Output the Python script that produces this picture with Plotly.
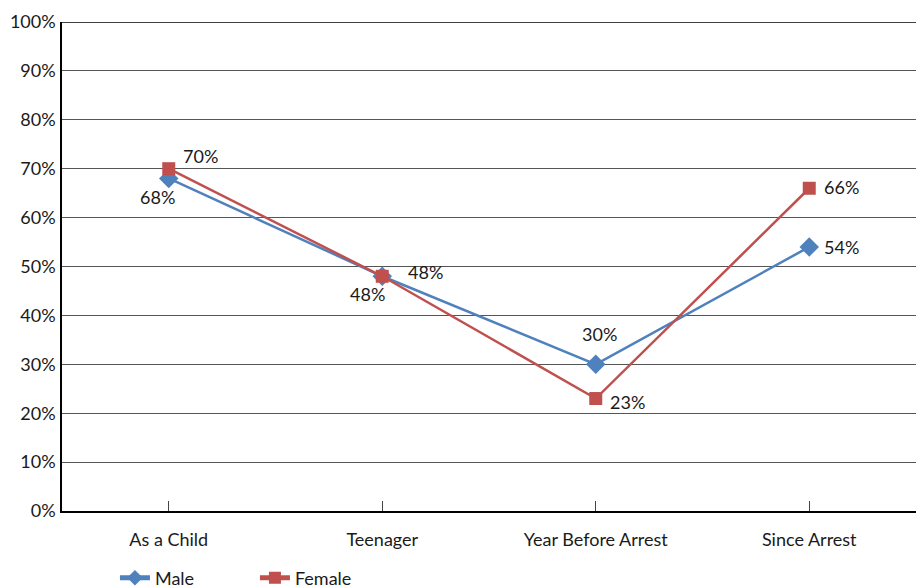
import plotly.graph_objects as go

# Share reporting the behaviour at each life stage, by gender
stages = ["As a Child", "Teenager", "Year Before Arrest", "Since Arrest"]
male = [68, 48, 30, 54]
female = [70, 48, 23, 66]
y_ticks = list(range(0, 101, 10))

# pixel offsets of each value label from its marker
male_off = [(-11, -19), (-15, -18), (4, 30), (32, 0)]
female_off = [(32, 13), (43, 4), (32, -3), (32, 1)]

BLUE = "#4F81BD"
RED = "#C0504D"
TEXT = "#1a1a1a"
FONT = "Lato, 'Open Sans', sans-serif"
FS = 18

fig = go.Figure()
fig.add_trace(go.Scatter(
    x=stages, y=male, name="Male", mode="lines+markers",
    line=dict(color=BLUE, width=2.5),
    marker=dict(symbol="diamond", size=15, color=BLUE),
    cliponaxis=False,
))
fig.add_trace(go.Scatter(
    x=stages, y=female, name="Female", mode="lines+markers",
    line=dict(color=RED, width=2.5),
    marker=dict(symbol="square", size=13, color=RED),
    cliponaxis=False,
))

for vals, offs in ((male, male_off), (female, female_off)):
    for s, v, (dx, dy) in zip(stages, vals, offs):
        fig.add_annotation(
            x=s, y=v, text=f"{v}%", showarrow=False,
            xshift=dx, yshift=dy,
            font=dict(size=FS, family=FONT, color=TEXT),
        )

fig.update_layout(
    width=921, height=588,
    margin=dict(l=62, r=5, t=22, b=77, autoexpand=False),
    paper_bgcolor="white", plot_bgcolor="white",
    font=dict(family=FONT, size=FS, color=TEXT),
    showlegend=True,
    legend=dict(
        orientation="h", x=0.062, xanchor="left",
        yref="container", y=0.017, yanchor="middle",
        entrywidth=95, entrywidthmode="pixels",
        font=dict(size=FS, family=FONT, color=TEXT),
        itemsizing="constant", tracegroupgap=0,
    ),
)
fig.update_xaxes(
    type="category", range=[-0.5, 3.5],
    showline=True, linecolor="black", linewidth=1.5,
    ticks="inside", ticklen=10, tickcolor="#444", tickwidth=1,
    showgrid=False, tickfont=dict(size=FS, family=FONT, color=TEXT),
    ticklabelstandoff=12,
)
fig.update_yaxes(
    range=[0, 100], tickvals=y_ticks, ticktext=[f"{v}%" for v in y_ticks],
    showline=True, linecolor="black", linewidth=1.5,
    showgrid=True, gridcolor="#555", gridwidth=1,
    ticks="", tickfont=dict(size=FS, family=FONT, color=TEXT),
    zeroline=False, ticklabelstandoff=1,
)
# top border at 100%
fig.add_hline(y=100, line=dict(color="black", width=1.5))

fig.write_html("out.html")
